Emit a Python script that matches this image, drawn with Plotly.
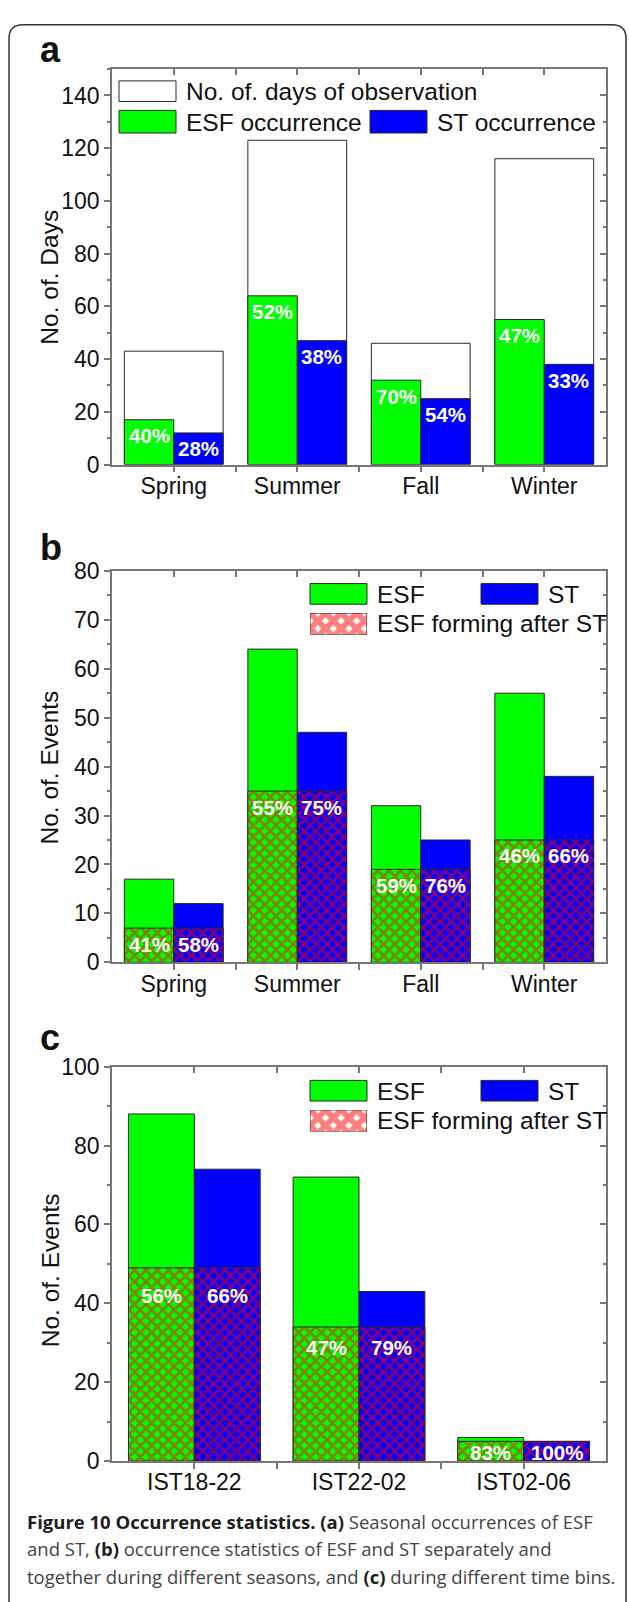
import plotly.graph_objects as go

# ---------------- data ----------------
seasons = ["Spring", "Summer", "Fall", "Winter"]
obs_days = [43, 123, 46, 116]
esf_days = [17, 64, 32, 55]
st_days = [12, 47, 25, 38]
esf_pct_a = ["40%", "52%", "70%", "47%"]
st_pct_a = ["28%", "38%", "54%", "33%"]

esf_events_b = [17, 64, 32, 55]
st_events_b = [12, 47, 25, 38]
common_b = [7, 35, 19, 25]
esf_pct_b = ["41%", "55%", "59%", "46%"]
st_pct_b = ["58%", "75%", "76%", "66%"]

time_bins = ["IST18-22", "IST22-02", "IST02-06"]
esf_events_c = [88, 72, 6]
st_events_c = [74, 43, 5]
common_c = [49, 34, 5]
esf_pct_c = ["56%", "47%", "83%"]
st_pct_c = ["66%", "79%", "100%"]

# label pixel shifts (layout, not data)
shift_c = [-28, -21, -11]

# ---------------- style ----------------
W, H = 629, 1602
GREEN, BLUE, RED = "#00ff00", "#0000ff", "#ff0000"
EDGE = "#2a2a2a"
AX = "#777777"
FONT = "Liberation Sans, Arial, sans-serif"


def px(x):
    return x / W


def py(y):
    return 1 - y / H


fig = go.Figure()


def bar(x, y, xa, ya, color, width, offset, pattern=None):
    m = dict(color=color, line=dict(color=EDGE, width=1))
    if pattern is not None:
        m["pattern"] = pattern
    fig.add_trace(go.Bar(x=x, y=y, width=width, offset=offset, marker=m,
                         xaxis=xa, yaxis=ya, hoverinfo="skip", showlegend=False))


def hatch(bg, size=8):
    return dict(shape="x", fgcolor=RED, bgcolor=bg, size=size, solidity=0.55)


xa_a = list(range(len(seasons)))
xa_c = list(range(len(time_bins)))

# panel a
bar(xa_a, obs_days, "x", "y", "white", 0.8, -0.4)
bar(xa_a, esf_days, "x", "y", GREEN, 0.4, -0.4)
bar(xa_a, st_days, "x", "y", BLUE, 0.4, 0.0)

# panel b
bar(xa_a, esf_events_b, "x2", "y2", GREEN, 0.4, -0.4)
bar(xa_a, st_events_b, "x2", "y2", BLUE, 0.4, 0.0)
bar(xa_a, common_b, "x2", "y2", GREEN, 0.4, -0.4, hatch(GREEN))
bar(xa_a, common_b, "x2", "y2", BLUE, 0.4, 0.0, hatch(BLUE))

# panel c
bar(xa_c, esf_events_c, "x3", "y3", GREEN, 0.4, -0.4)
bar(xa_c, st_events_c, "x3", "y3", BLUE, 0.4, 0.0)
bar(xa_c, common_c, "x3", "y3", GREEN, 0.4, -0.4, hatch(GREEN))
bar(xa_c, common_c, "x3", "y3", BLUE, 0.4, 0.0, hatch(BLUE))

# empty traces to register overlay axes
for i in (4, 5, 6):
    fig.add_trace(go.Scatter(x=[None], y=[None], xaxis=f"x{i}", yaxis=f"y{i}",
                             showlegend=False, hoverinfo="skip"))

# hatched legend swatches (panels b, c) on hidden axes
for i in (7, 8):
    fig.add_trace(go.Bar(x=[0.5], y=[1], width=1, xaxis=f"x{i}", yaxis=f"y{i}",
                         marker=dict(color="white", line=dict(color=EDGE, width=1),
                                     pattern=dict(shape="x", fgcolor=RED, bgcolor="white",
                                                  size=11, solidity=0.78)),
                         hoverinfo="skip", showlegend=False))

XD = [px(112), px(606)]
panels = [
    # (ydomain, yrange, dtick, minor, ncat, ticktext)
    ([py(459), py(57)], [0, 150], 20, 10, len(seasons), seasons),
    ([py(965), py(567)], [0, 80], 10, 5, len(seasons), seasons),
    ([py(1472), py(1071)], [0, 100], 20, 10, len(time_bins), time_bins),
]

layout = dict(width=W, height=H, margin=dict(l=0, r=0, t=0, b=0),
              paper_bgcolor="white", plot_bgcolor="white", barmode="overlay",
              showlegend=False, font=dict(family=FONT, color="#111"))

tickstyle = dict(tickcolor=AX, tickwidth=1.5)
for k, (yd, yr, dt, mn, n, tt) in enumerate(panels):
    i = k + 1
    o = k + 4
    sx = "" if i == 1 else str(i)
    tv = list(range(n))
    mv = [j + 0.5 for j in range(n - 1)]
    xr = [-0.5, n - 0.5]
    layout[f"xaxis{sx}"] = dict(domain=XD, range=xr, anchor=f"y{sx}", tickmode="array",
                                tickvals=tv, ticktext=tt, ticks="outside", ticklen=6,
                                showline=True, linecolor=AX, linewidth=1.5, mirror=True,
                                showgrid=False, zeroline=False, fixedrange=True,
                                ticklabelstandoff=-6,
                                tickfont=dict(size=23, family=FONT, color="#111"),
                                minor=dict(tickmode="array", tickvals=mv, ticks="outside",
                                           ticklen=6, **tickstyle), **tickstyle)
    layout[f"yaxis{sx}"] = dict(domain=yd, range=yr, anchor=f"x{sx}", tick0=0, dtick=dt,
                                ticks="outside", ticklen=6, showline=True, linecolor=AX,
                                linewidth=1.5, mirror=True, showgrid=False, zeroline=False,
                                fixedrange=True,
                                tickfont=dict(size=23, family=FONT, color="#111"),
                                minor=dict(dtick=mn, ticks="outside", ticklen=3, **tickstyle),
                                **tickstyle)
    layout[f"xaxis{o}"] = dict(overlaying=f"x{sx}", side="top", anchor=f"y{sx}", range=xr,
                               tickmode="array", tickvals=tv, ticks="inside", ticklen=6,
                               showticklabels=False, showline=False, showgrid=False,
                               zeroline=False, fixedrange=True,
                               minor=dict(tickmode="array", tickvals=mv, ticks="inside",
                                          ticklen=6, **tickstyle), **tickstyle)
    layout[f"yaxis{o}"] = dict(overlaying=f"y{sx}", side="right", anchor=f"x{sx}", range=yr,
                               tick0=0, dtick=dt, ticks="inside", ticklen=6,
                               showticklabels=False, showline=False, showgrid=False,
                               zeroline=False, fixedrange=True,
                               minor=dict(dtick=mn, ticks="inside", ticklen=3, **tickstyle),
                               **tickstyle)

# hidden swatch axes
for i, (top, bot) in zip((7, 8), ((610, 632), (1115, 1137))):
    hidden = dict(showline=False, showticklabels=False, ticks="", showgrid=False,
                  zeroline=False, fixedrange=True)
    layout[f"xaxis{i}"] = dict(domain=[px(310), px(367)], range=[0, 1], anchor=f"y{i}", **hidden)
    layout[f"yaxis{i}"] = dict(domain=[py(bot), py(top)], range=[0, 1], anchor=f"x{i}", **hidden)

fig.update_layout(**layout)

shapes = []
anns = []


def box(x0, y0, x1, y1, color):
    shapes.append(dict(type="rect", xref="paper", yref="paper", x0=px(x0), x1=px(x1),
                       y0=py(y1), y1=py(y0), fillcolor=color, line=dict(color=EDGE, width=1)))


def text(x, y, s, size=24.5, anchor="left", **kw):
    anns.append(dict(x=px(x), y=py(y), xref="paper", yref="paper", text=s, showarrow=False,
                     xanchor=anchor, yanchor="middle", font=dict(size=size, family=FONT,
                                                                 color=kw.pop("color", "#111")),
                     **kw))


# legend a
box(119, 69, 176, 90, "white")
text(184, 80, "No. of. days of observation")
box(119, 99, 176, 122, GREEN)
text(184, 111, "ESF occurrence")
box(370, 99, 427, 122, BLUE)
text(435, 111, "ST occurrence")

# legend b and c
for top in (580, 1085):
    box(310, top, 367, top + 21, GREEN)
    text(375, top + 11, "ESF")
    box(481, top, 538, top + 21, BLUE)
    text(546, top + 11, "ST")
    text(375, top + 41, "ESF forming after ST")

# panel letters
text(50, 37, "<b>a</b>", size=36, anchor="center")
text(51, 543, "<b>b</b>", size=36, anchor="center")
text(50, 1041, "<b>c</b>", size=36, anchor="center")

# y titles
for y, s in ((269, "No. of. Days"), (767, "No. of. Events"), (1278, "No. of. Events")):
    text(50, y, s, size=24.5, anchor="center", textangle=-90)


# percentage labels, positioned by the axes
def pct(xs, ys, labels, off, xa, ya, shifts):
    for x, y, s, sh in zip(xs, ys, labels, shifts):
        anns.append(dict(x=x + off, y=y, xref=xa, yref=ya, text=f"<b>{s}</b>",
                         showarrow=False, yshift=sh, xanchor="center", yanchor="middle",
                         font=dict(size=20.5, family=FONT, color="white")))


pct(xa_a, esf_days, esf_pct_a, -0.2, "x", "y", [-16] * 4)
pct(xa_a, st_days, st_pct_a, 0.2, "x", "y", [-16] * 4)
pct(xa_a, common_b, esf_pct_b, -0.2, "x2", "y2", [-16] * 4)
pct(xa_a, common_b, st_pct_b, 0.2, "x2", "y2", [-16] * 4)
pct(xa_c, common_c, esf_pct_c, -0.2, "x3", "y3", shift_c)
pct(xa_c, common_c, st_pct_c, 0.2, "x3", "y3", shift_c)

# caption
CAP = "Open Sans, Noto Sans, sans-serif"
B = '<span style="color:#1e1e1e"><b>%s</b></span>'
cap_lines = [
    B % "Figure 10 Occurrence statistics." + " " + B % "(a)" + " Seasonal occurrences of ESF",
    "and ST, " + B % "(b)" + " occurrence statistics of ESF and ST separately and",
    "together during different seasons, and " + B % "(c)" + " during different time bins.",
]
for y, s in zip((1533, 1561, 1589), cap_lines):
    anns.append(dict(x=px(25), y=py(y), xref="paper", yref="paper", text=s, showarrow=False,
                     xanchor="left", yanchor="middle",
                     font=dict(size=18.5, family=CAP, color="#444")))

# rounded frame
r = 14
L, T, R, Bt = 9, 12, 626, 1625
path = (f"M {px(L)},{py(Bt)} L {px(L)},{py(T + r)} Q {px(L)},{py(T)} {px(L + r)},{py(T)} "
        f"L {px(R - r)},{py(T)} Q {px(R)},{py(T)} {px(R)},{py(T + r)} L {px(R)},{py(Bt)}")
shapes.append(dict(type="path", xref="paper", yref="paper", path=path,
                   line=dict(color="#333", width=1.5)))

fig.update_layout(shapes=shapes, annotations=anns)
fig.write_html("out.html", config={"displayModeBar": False},
               post_script="document.body.style.margin='0';"
                           "document.body.style.overflow='hidden';")
